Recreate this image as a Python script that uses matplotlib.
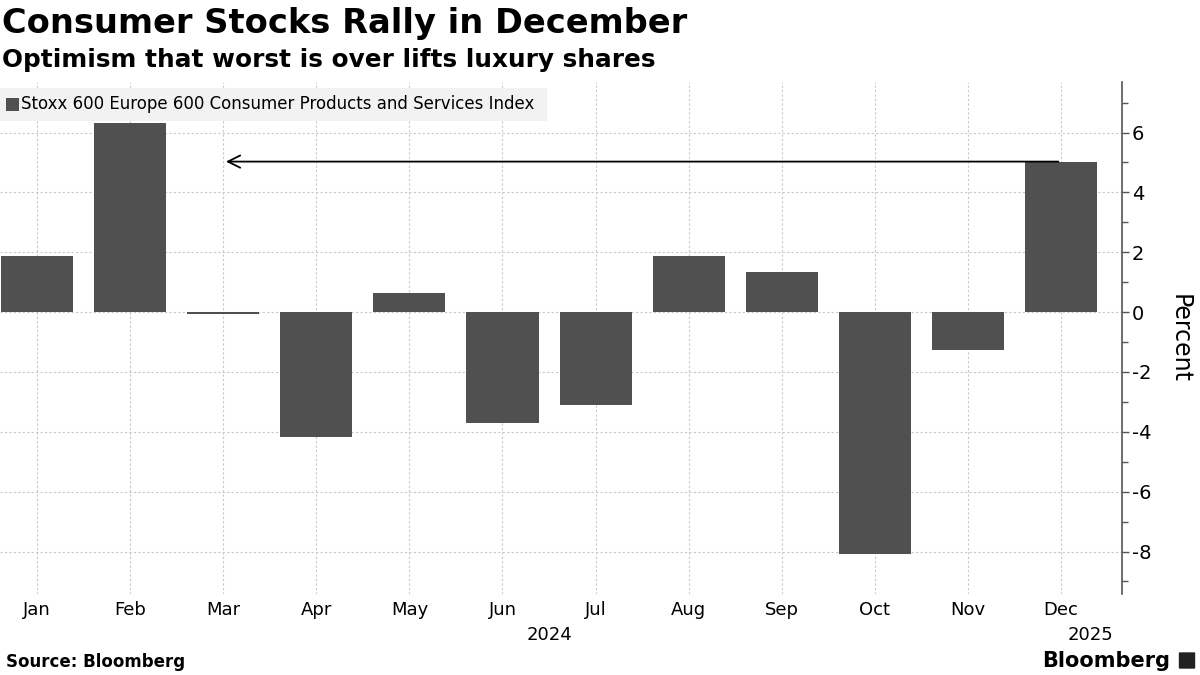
import numpy as np
import matplotlib
matplotlib.use("Agg")
import matplotlib.pyplot as plt
from matplotlib.patches import Rectangle, FancyBboxPatch

## Data (monthly % change)

months = ["Jan", "Feb", "Mar", "Apr", "May", "Jun",
          "Jul", "Aug", "Sep", "Oct", "Nov", "Dec"]
values = [1.88, 6.31, -0.05, -4.19, 0.64, -3.72,
          -3.12, 1.88, 1.34, -8.09, -1.28, 5.03]
yticks = [-8, -6, -4, -2, 0, 2, 4, 6]
series_name = "Stoxx 600 Europe 600 Consumer Products and Services Index"

bar_color = "#505050"
grid_color = "#c8c8c8"

plt.rcParams["font.family"] = ["DejaVu Sans"]
plt.rcParams["axes.unicode_minus"] = False

fig = plt.figure(figsize=(12, 6.75), dpi=100)
ax = fig.add_axes([0.0, 1 - 594 / 675, 1122 / 1200, (594 - 82) / 675])

x = np.arange(len(months))
ax.bar(x, values, width=0.775, color=bar_color, zorder=2)

# arrow from latest month back to Mar
ax.annotate("", xy=(2, values[-1]), xytext=(11, values[-1]),
            arrowprops=dict(arrowstyle="->", color="black", lw=1.3,
                            mutation_scale=22), zorder=3)

ax.set_xlim(-0.397, 11.654)
ax.set_ylim(-9.42, 7.69)

# grid
ax.set_xticks(x)
ax.set_xticklabels(months, fontsize=13)
ax.set_yticks(yticks)
ax.set_yticks(np.arange(-9, 8), minor=True)
ax.grid(True, which="major", color=grid_color, linestyle=(0, (2, 2)), lw=0.8, zorder=0)

ax.yaxis.tick_right()
ax.tick_params(axis="y", which="major", length=5, width=1, color="#555555",
               labelsize=14, pad=2)
ax.tick_params(axis="y", which="minor", length=4, width=1, color="#555555")
ax.tick_params(axis="x", length=0, pad=5)
for s in ["top", "left", "bottom"]:
    ax.spines[s].set_visible(False)
ax.spines["right"].set_color("#555555")
ax.spines["right"].set_linewidth(1.2)

ax.yaxis.set_label_position("right")
ax.set_ylabel("Percent", rotation=270, fontsize=17, labelpad=29)

# year labels under the months
ax.text(5.5, -0.062, "2024", transform=ax.get_xaxis_transform(),
        ha="center", va="top", fontsize=13)
ax.text(11.32, -0.062, "2025", transform=ax.get_xaxis_transform(),
        ha="center", va="top", fontsize=13)

# legend box
fig.patches.append(Rectangle(
    (0, 1 - 121 / 675), 547 / 1200, 33 / 675, transform=fig.transFigure,
    facecolor="#f2f2f2", edgecolor="none", zorder=5))
fig.patches.append(Rectangle(
    (6 / 1200, 1 - 111 / 675), 13 / 1200, 13 / 675, transform=fig.transFigure,
    facecolor=bar_color, edgecolor="none", zorder=6))
fig.text(21 / 1200, 1 - 104 / 675, series_name, fontsize=12,
         va="center", ha="left", zorder=7)

# titles
fig.text(0.002, 1 - 24 / 675, "Consumer Stocks Rally in December",
         fontsize=24.2, fontweight="bold", va="center", ha="left")
fig.text(0.002, 1 - 60 / 675, "Optimism that worst is over lifts luxury shares",
         fontsize=17.8, fontweight="bold", va="center", ha="left")

# footer
fig.text(0.005, 1 - 662 / 675, "Source: Bloomberg", fontsize=12,
         fontweight="bold", va="center", ha="left")
fig.text(1170 / 1200, 1 - 661 / 675, "Bloomberg", fontsize=15,
         fontweight="bold", va="center", ha="right")
fig.patches.append(FancyBboxPatch(
    (1180 / 1200, 1 - 668 / 675), 14 / 1200, 15 / 675, transform=fig.transFigure,
    boxstyle="round,pad=0.001", facecolor="#222222", edgecolor="none"))

fig.savefig("out.png", dpi=100)
